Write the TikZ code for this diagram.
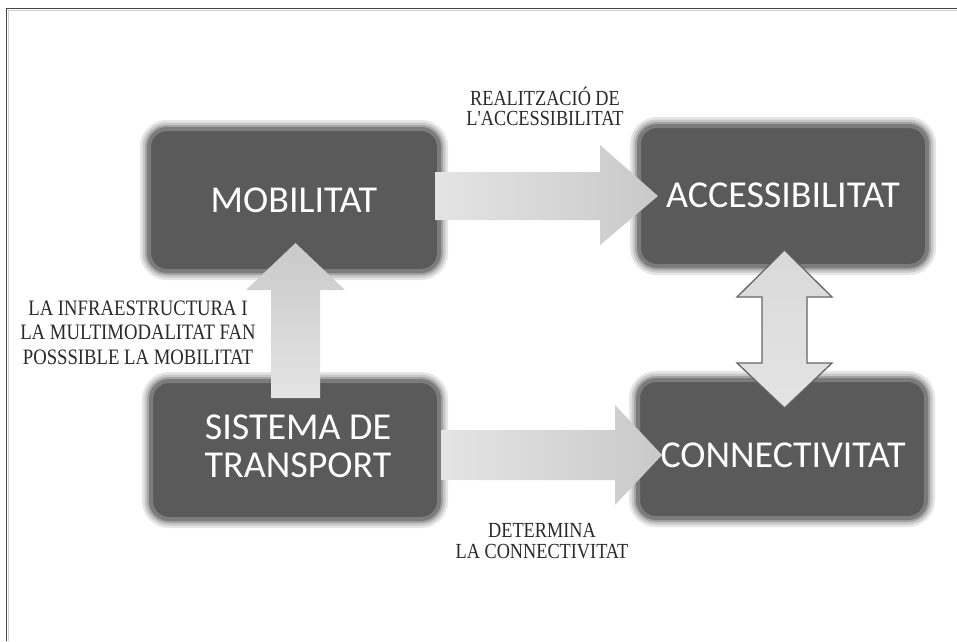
\documentclass[tikz,border=0pt]{standalone}
\usepackage{fontspec}
\setmainfont{Liberation Serif}
\newfontfamily\boxfont{Carlito}
\newfontfamily\lblfont[FakeStretch=0.85]{Liberation Serif}
\usetikzlibrary{calc}
\definecolor{boxfill}{HTML}{5A5A5A}
\definecolor{glowA}{HTML}{7C7C7C}
\definecolor{glowB}{HTML}{A4A4A4}
\definecolor{glowC}{HTML}{C8C8C8}
\definecolor{glowD}{HTML}{E6E6E6}
\definecolor{arrL}{HTML}{E4E4E4}
\definecolor{arrR}{HTML}{C9C9C9}
\definecolor{framec}{HTML}{454545}
\definecolor{txtc}{HTML}{2A2A2A}
\tikzset{
  bigbox/.style={rectangle, rounded corners=18pt, inner sep=0pt,
    fill=boxfill, draw=glowA, line width=4pt,
    preaction={draw=glowD, line width=18pt},
    preaction={draw=glowC, line width=13pt},
    preaction={draw=glowB, line width=8pt}},
  boxtext/.style={text=white, font=\boxfont\fontsize{38}{38}\selectfont, align=center, inner sep=0pt},
  lbl/.style={text=txtc, align=center, inner sep=0pt},
  harrow/.style={left color=arrL, right color=arrR},
  varrow/.style={bottom color=arrL, top color=arrR},
  dblarrow/.style={draw=gray!80!black, line width=1.3pt, top color=arrL!60!arrR, bottom color=arrL}
}
\begin{document}
\begin{tikzpicture}[x=1pt,y=-1pt]
\useasboundingbox (0,0) rectangle (957,641);
\fill[white] (0,0) rectangle (957,641);
% frame
\draw[framec, line width=1.5pt] (6.5,641) -- (6.5,8.5) -- (957,8.5);
\draw[gray!35, line width=0.8pt] (8.2,641) -- (8.2,10.2) -- (957,10.2);

% boxes
\node[bigbox, minimum width=290pt, minimum height=142pt] (mob) at (294,200) {};
\node[bigbox, minimum width=288pt, minimum height=140pt] (acc) at (783,196) {};
\node[bigbox, minimum width=288pt, minimum height=138pt] (sis) at (295,450) {};
\node[bigbox, minimum width=288pt, minimum height=138pt] (con) at (782,449) {};

\node[boxtext] (mobt) at (mob.center) {MOBILITAT};
\node[boxtext] (acct) at ($(acc.center)+(0,-1)$) {ACCESSIBILITAT};
\node[boxtext] (sist) at ($(sis.center)+(3,-4)$) {SISTEMA DE\\TRANSPORT};
\node[boxtext] (cont) at ($(con.center)+(1,6)$) {CONNECTIVITAT};

% block arrows
\path[harrow] (435,172) coordinate (t1)
  -- (600,172) -- (600,145) -- (658,196) -- (600,245) -- (600,220)
  -- (435,220) -- cycle;
\path[harrow] ($(sis.east)+(0,-20)$) coordinate (t2)
  -- (615,430) -- (615,405) -- (662,455) -- (615,505) -- (615,480)
  -- ($(sis.east)+(0,30)$) -- cycle;
\path[varrow] (271,398) -- (271,290) -- (246,290) -- (295.5,243)
  -- (345,290) -- (320,290) -- (320,398) -- cycle;
\path[dblarrow] (784.5,250) -- (832,297) -- (807,297) -- (807,363)
  -- (832,363) -- (784.5,408) -- (737,363) -- (762,363) -- (762,297)
  -- (737,297) -- cycle;

% labels (base anchor = last line baseline)
\node[lbl, font=\lblfont\fontsize{21.5}{20}\selectfont, anchor=base] (l1) at (545,125)
  {REALITZACIÓ DE\\L'ACCESSIBILITAT};
\node[lbl, font=\lblfont\fontsize{22}{24.5}\selectfont, anchor=base] (l2) at (138,364)
  {LA INFRAESTRUCTURA I\\LA MULTIMODALITAT FAN\\POSSSIBLE LA MOBILITAT};
\node[lbl, font=\lblfont\fontsize{21.5}{21}\selectfont, anchor=base] (l3) at (542,558)
  {DETERMINA\\LA CONNECTIVITAT};
\end{tikzpicture}
\end{document}
